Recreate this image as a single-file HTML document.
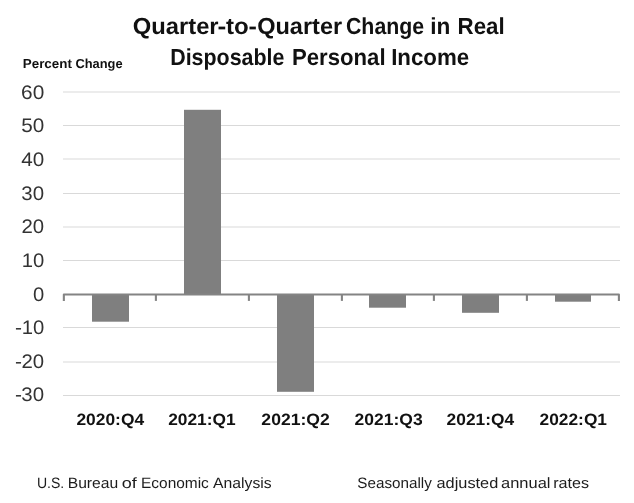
<!DOCTYPE html>
<html><head><meta charset="utf-8"><title>Chart</title>
<style>html,body{margin:0;padding:0;background:#fff;}svg{display:block;will-change:transform;filter:grayscale(1);}text{font-family:"Liberation Sans",sans-serif;text-rendering:geometricPrecision;}</style></head>
<body>
<svg width="634" height="503" viewBox="0 0 634 503">
<rect width="634" height="503" fill="#ffffff"/>
<line x1="63" x2="620" y1="92.00" y2="92.00" stroke="#d9d9d9" stroke-width="1.1"/>
<line x1="63" x2="620" y1="125.50" y2="125.50" stroke="#d9d9d9" stroke-width="1.1"/>
<line x1="63" x2="620" y1="159.00" y2="159.00" stroke="#d9d9d9" stroke-width="1.1"/>
<line x1="63" x2="620" y1="193.50" y2="193.50" stroke="#d9d9d9" stroke-width="1.1"/>
<line x1="63" x2="620" y1="227.00" y2="227.00" stroke="#d9d9d9" stroke-width="1.1"/>
<line x1="63" x2="620" y1="260.50" y2="260.50" stroke="#d9d9d9" stroke-width="1.1"/>
<line x1="63" x2="620" y1="327.50" y2="327.50" stroke="#d9d9d9" stroke-width="1.1"/>
<line x1="63" x2="620" y1="362.00" y2="362.00" stroke="#d9d9d9" stroke-width="1.1"/>
<line x1="63" x2="620" y1="395.50" y2="395.50" stroke="#d9d9d9" stroke-width="1.1"/>
<rect x="92" y="294.45" width="37.00" height="27.25" fill="#7f7f7f"/>
<rect x="184" y="109.80" width="37.00" height="184.65" fill="#7f7f7f"/>
<rect x="277" y="294.45" width="37.00" height="97.35" fill="#7f7f7f"/>
<rect x="369" y="294.45" width="37.00" height="13.25" fill="#7f7f7f"/>
<rect x="462" y="294.45" width="37.00" height="18.35" fill="#7f7f7f"/>
<rect x="555" y="294.45" width="36.00" height="7.25" fill="#7f7f7f"/>
<path d="M63.85,300.9 V294.45 H618.9 V300.9" fill="none" stroke="#848484" stroke-width="2.1" stroke-linejoin="round"/>
<line x1="155.9" x2="155.9" y1="294.45" y2="300.9" stroke="#848484" stroke-width="2.1"/>
<line x1="248.9" x2="248.9" y1="294.45" y2="300.9" stroke="#848484" stroke-width="2.1"/>
<line x1="341.9" x2="341.9" y1="294.45" y2="300.9" stroke="#848484" stroke-width="2.1"/>
<line x1="433.9" x2="433.9" y1="294.45" y2="300.9" stroke="#848484" stroke-width="2.1"/>
<line x1="526.9" x2="526.9" y1="294.45" y2="300.9" stroke="#848484" stroke-width="2.1"/>
<text x="132.77" y="34.00" font-size="23.2" font-weight="bold" fill="#111" textLength="85.85" lengthAdjust="spacingAndGlyphs">Quarter</text>
<text x="217.61" y="34.00" font-size="23.2" font-weight="bold" fill="#111" textLength="8.78" lengthAdjust="spacingAndGlyphs">-</text>
<text x="225.96" y="34.00" font-size="23.2" font-weight="bold" fill="#111" textLength="22.74" lengthAdjust="spacingAndGlyphs">to</text>
<text x="248.49" y="34.00" font-size="23.2" font-weight="bold" fill="#111" textLength="8.38" lengthAdjust="spacingAndGlyphs">-</text>
<text x="257.18" y="34.00" font-size="23.2" font-weight="bold" fill="#111" textLength="85.03" lengthAdjust="spacingAndGlyphs">Quarter</text>
<text x="345.98" y="34.00" font-size="23.2" font-weight="bold" fill="#111" textLength="78.19" lengthAdjust="spacingAndGlyphs">Change</text>
<text x="430.25" y="34.00" font-size="23.2" font-weight="bold" fill="#111" textLength="20.1" lengthAdjust="spacingAndGlyphs">in</text>
<text x="457.5" y="34.00" font-size="23.2" font-weight="bold" fill="#111" textLength="47.19" lengthAdjust="spacingAndGlyphs">Real</text>
<text x="170.2" y="65.10" font-size="23.2" font-weight="bold" fill="#111" textLength="114.3" lengthAdjust="spacingAndGlyphs">Disposable</text>
<text x="291.95" y="65.10" font-size="23.2" font-weight="bold" fill="#111" textLength="93.68" lengthAdjust="spacingAndGlyphs">Personal</text>
<text x="391.13" y="65.10" font-size="23.2" font-weight="bold" fill="#111" textLength="78.11" lengthAdjust="spacingAndGlyphs">Income</text>
<text x="22.77" y="68.20" font-size="13.0" font-weight="bold" fill="#111" textLength="49.16" lengthAdjust="spacingAndGlyphs">Percent</text>
<text x="75.44" y="68.20" font-size="13.0" font-weight="bold" fill="#111" textLength="47.09" lengthAdjust="spacingAndGlyphs">Change</text>
<text x="21.04" y="99.00" font-size="19.6" font-weight="normal" fill="#333333" textLength="23.21" lengthAdjust="spacingAndGlyphs">60</text>
<text x="21.32" y="132.00" font-size="19.6" font-weight="normal" fill="#333333" textLength="22.98" lengthAdjust="spacingAndGlyphs">50</text>
<text x="21.36" y="166.00" font-size="19.6" font-weight="normal" fill="#333333" textLength="22.94" lengthAdjust="spacingAndGlyphs">40</text>
<text x="21.38" y="200.00" font-size="19.6" font-weight="normal" fill="#333333" textLength="22.75" lengthAdjust="spacingAndGlyphs">30</text>
<text x="21.47" y="233.00" font-size="19.6" font-weight="normal" fill="#333333" textLength="22.66" lengthAdjust="spacingAndGlyphs">20</text>
<text x="21.65" y="267.00" font-size="19.6" font-weight="normal" fill="#333333" textLength="22.54" lengthAdjust="spacingAndGlyphs">10</text>
<text x="33.03" y="301.00" font-size="19.6" font-weight="normal" fill="#333333" textLength="11.24" lengthAdjust="spacingAndGlyphs">0</text>
<text x="21.65" y="334.00" font-size="19.6" font-weight="normal" fill="#333333" textLength="22.54" lengthAdjust="spacingAndGlyphs">10</text>
<text x="15.04" y="334.00" font-size="19.6" font-weight="normal" fill="#333333" textLength="6.99" lengthAdjust="spacingAndGlyphs">-</text>
<text x="21.47" y="368.00" font-size="19.6" font-weight="normal" fill="#333333" textLength="22.66" lengthAdjust="spacingAndGlyphs">20</text>
<text x="15.04" y="368.00" font-size="19.6" font-weight="normal" fill="#333333" textLength="6.99" lengthAdjust="spacingAndGlyphs">-</text>
<text x="21.38" y="401.00" font-size="19.6" font-weight="normal" fill="#333333" textLength="22.75" lengthAdjust="spacingAndGlyphs">30</text>
<text x="15.04" y="401.00" font-size="19.6" font-weight="normal" fill="#333333" textLength="6.99" lengthAdjust="spacingAndGlyphs">-</text>
<text x="76.4" y="425.30" font-size="16.4" font-weight="bold" fill="#111" textLength="67.7" lengthAdjust="spacingAndGlyphs">2020:Q4</text>
<text x="168.2" y="425.30" font-size="16.4" font-weight="bold" fill="#111" textLength="67.48" lengthAdjust="spacingAndGlyphs">2021:Q1</text>
<text x="261.39" y="425.30" font-size="16.4" font-weight="bold" fill="#111" textLength="68.43" lengthAdjust="spacingAndGlyphs">2021:Q2</text>
<text x="354.6" y="425.30" font-size="16.4" font-weight="bold" fill="#111" textLength="68.06" lengthAdjust="spacingAndGlyphs">2021:Q3</text>
<text x="446.59" y="425.30" font-size="16.4" font-weight="bold" fill="#111" textLength="67.55" lengthAdjust="spacingAndGlyphs">2021:Q4</text>
<text x="539.6" y="425.30" font-size="16.4" font-weight="bold" fill="#111" textLength="67.4" lengthAdjust="spacingAndGlyphs">2022:Q1</text>
<text x="36.91" y="487.60" font-size="15.0" font-weight="normal" fill="#1c1c1c" textLength="27.33" lengthAdjust="spacingAndGlyphs">U.S.</text>
<text x="67.68" y="487.60" font-size="15.0" font-weight="normal" fill="#1c1c1c" textLength="50.57" lengthAdjust="spacingAndGlyphs">Bureau</text>
<text x="121.81" y="487.60" font-size="15.0" font-weight="normal" fill="#1c1c1c" textLength="15.03" lengthAdjust="spacingAndGlyphs">of</text>
<text x="141.07" y="487.60" font-size="15.0" font-weight="normal" fill="#1c1c1c" textLength="67.76" lengthAdjust="spacingAndGlyphs">Economic</text>
<text x="213.09" y="487.60" font-size="15.0" font-weight="normal" fill="#1c1c1c" textLength="58.52" lengthAdjust="spacingAndGlyphs">Analysis</text>
<text x="357.37" y="487.60" font-size="15.0" font-weight="normal" fill="#1c1c1c" textLength="74.44" lengthAdjust="spacingAndGlyphs">Seasonally</text>
<text x="436.52" y="487.60" font-size="15.0" font-weight="normal" fill="#1c1c1c" textLength="61.76" lengthAdjust="spacingAndGlyphs">adjusted</text>
<text x="501.08" y="487.60" font-size="15.0" font-weight="normal" fill="#1c1c1c" textLength="49.37" lengthAdjust="spacingAndGlyphs">annual</text>
<text x="553.24" y="487.60" font-size="15.0" font-weight="normal" fill="#1c1c1c" textLength="35.82" lengthAdjust="spacingAndGlyphs">rates</text>
</svg>
</body></html>
